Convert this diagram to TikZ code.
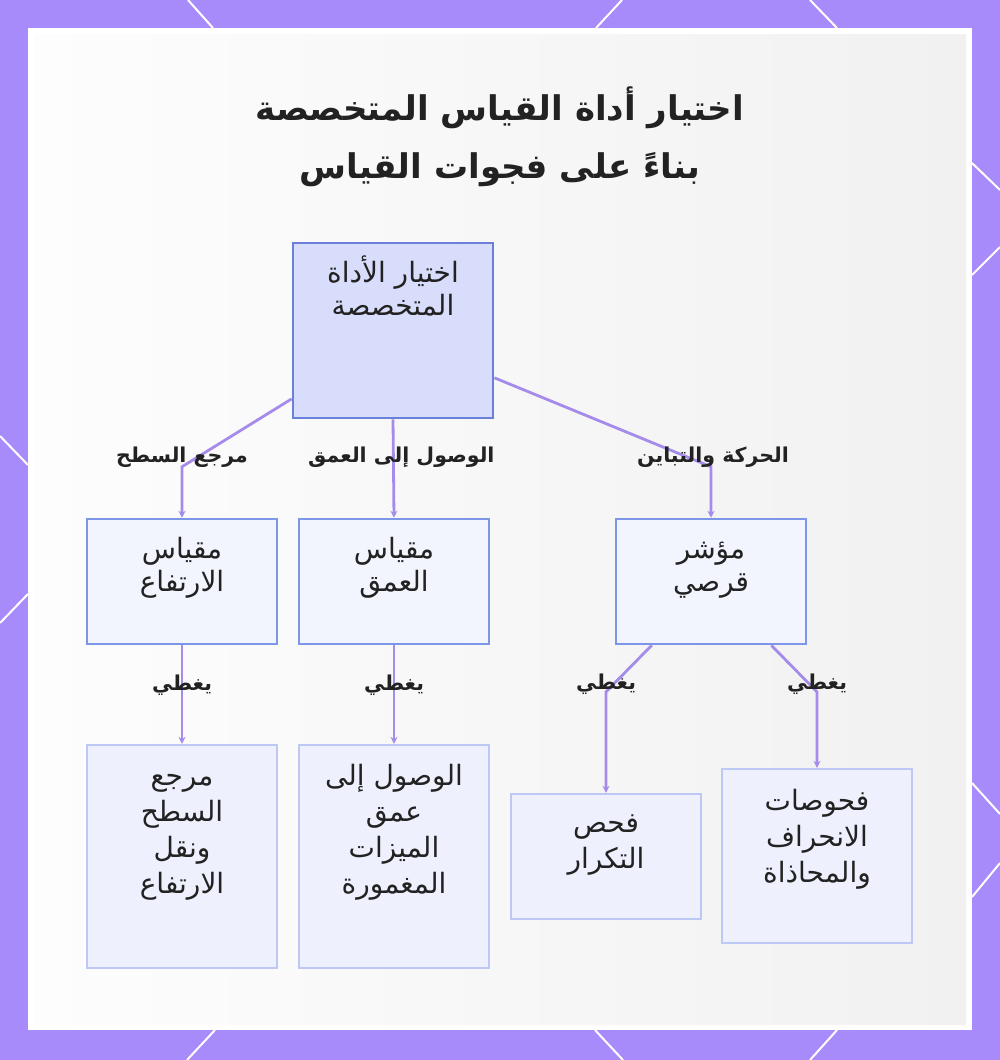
\documentclass[tikz,border=0pt]{standalone}
\usepackage{fontspec}
\usepackage{xcolor}
\usepackage{tikz}
\usetikzlibrary{arrows.meta, positioning, calc}
\TeXXeTstate=1
\newfontfamily\arabicfont[Script=Arabic]{DejaVu Sans}
\newcommand{\artext}[1]{\strut\beginR#1\endR}
\definecolor{framecolor}{HTML}{A78BFA}
\definecolor{panelleft}{HTML}{FDFDFD}
\definecolor{panelright}{HTML}{F1F1F2}
\definecolor{rootfill}{HTML}{D8DDFB}
\definecolor{rootline}{HTML}{6B80D8}
\definecolor{toolfill}{HTML}{F3F5FE}
\definecolor{toolline}{HTML}{7D96E8}
\definecolor{gapfill}{HTML}{EEF1FD}
\definecolor{gapline}{HTML}{BEC8F5}
\definecolor{linkcolor}{HTML}{A58CEB}
\definecolor{inkcolor}{HTML}{222222}

\begin{document}
\begin{tikzpicture}[
    x=1pt, y=-1pt,
    every node/.style={font=\arabicfont, text=inkcolor},
    rootbox/.style={draw=rootline, fill=rootfill, line width=2.8pt, minimum width=200pt, minimum height=175pt},
    toolbox/.style={draw=toolline, fill=toolfill, line width=2.5pt, minimum width=190pt, minimum height=125pt},
    gapbox/.style={draw=gapline, fill=gapfill, line width=2.3pt, minimum width=190pt},
    boxtext/.style={align=center, inner sep=0pt, font=\arabicfont\fontsize{28}{33}\selectfont},
    gaptext/.style={boxtext, font=\arabicfont\fontsize{28}{36}\selectfont},
    link/.style={draw=linkcolor, line width=2.8pt, -{Stealth[length=7pt, width=7pt]}},
    lbl/.style={font=\arabicfont\bfseries\fontsize{20.5}{24}\selectfont},
]
    % Frame
    \useasboundingbox (0,0) rectangle (1000,1060);
    \fill[framecolor] (0,0) rectangle (1000,1060);
    \fill[white] (28,28) rectangle (972,1030);
    \shade[left color=panelleft, right color=panelright] (34,34) rectangle (966,1024);
    \foreach \xa/\ya/\xb/\yb in {188/0/213/28, 622/0/596/28, 810/0/837/28,
        972/163/1000/190, 972/275/1000/247, 972/783/1000/814, 972/897/1000/863,
        0/436/28/465, 28/594/0/623, 215/1030/187/1060, 595/1030/623/1060, 837/1030/810/1060}
        \draw[white, line width=2pt] (\xa,\ya) -- (\xb,\yb);

    % Title
    \node[align=center, font=\arabicfont\bfseries\fontsize{34}{58}\selectfont] (heading) at (500,137)
        {\beginR اختيار أداة القياس المتخصصة\endR\\\beginR بناءً على فجوات القياس\endR};

    % Root
    \node[rootbox] (select) at (393,330.5) {};
    \node[boxtext, below=14pt of select.north] {\artext{اختيار الأداة}\\\artext{المتخصصة}};

    % Tools
    \node[toolbox] (height) at (182,581.5) {};
    \node[boxtext, below=17pt of height.north] {\artext{مقياس}\\\artext{الارتفاع}};
    \node[toolbox] (depth) at (394,581.5) {};
    \node[boxtext, below=17pt of depth.north] {\artext{مقياس}\\\artext{العمق}};
    \node[toolbox] (dial) at (711,581.5) {};
    \node[boxtext, below=17pt of dial.north] {\artext{مؤشر}\\\artext{قرصي}};

    % Gaps covered
    \node[gapbox, minimum height=223pt] (surface) at (182,856.5) {};
    \node[gaptext, below=16pt of surface.north] {\artext{مرجع}\\\artext{السطح}\\\artext{ونقل}\\\artext{الارتفاع}};
    \node[gapbox, minimum height=223pt] (submerged) at (394,856.5) {};
    \node[gaptext, below=16pt of submerged.north] {\artext{الوصول إلى}\\\artext{عمق}\\\artext{الميزات}\\\artext{المغمورة}};
    \node[gapbox, minimum height=125pt] (repeat) at (606,856.5) {};
    \node[gaptext, below=14pt of repeat.north] {\artext{فحص}\\\artext{التكرار}};
    \node[gapbox, minimum height=174pt] (drift) at (817,856) {};
    \node[gaptext, below=17pt of drift.north] {\artext{فحوصات}\\\artext{الانحراف}\\\artext{والمحاذاة}};

    % Links
    \draw[link] (select.214) -- ([yshift=51pt]height.north)
        node[lbl, yshift=10pt] {\beginR مرجع السطح\endR} -- (height.north);
    \draw[link] (select.south) -- node[lbl, pos=0.38, xshift=8pt] {\beginR الوصول إلى العمق\endR} (depth.north);
    \draw[link] (select.-25) -- ([yshift=51pt]dial.north)
        node[lbl, xshift=2pt, yshift=10pt] {\beginR الحركة والتباين\endR} -- (dial.north);
    \draw[link] (height.south) -- node[lbl, pos=0.41] {\beginR يغطي\endR} (surface.north);
    \draw[link] (depth.south) -- node[lbl, pos=0.41] {\beginR يغطي\endR} (submerged.north);
    \draw[link] ([xshift=37pt]dial.south west) -- ([yshift=101pt]repeat.north)
        node[lbl, yshift=8pt] {\beginR يغطي\endR} -- (repeat.north);
    \draw[link] ([xshift=-36pt]dial.south east) -- ([yshift=76pt]drift.north)
        node[lbl, yshift=8pt] {\beginR يغطي\endR} -- (drift.north);
\end{tikzpicture}
\end{document}
